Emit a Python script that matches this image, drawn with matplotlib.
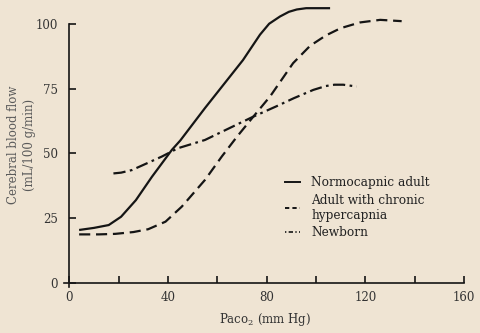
import numpy as np
import matplotlib
matplotlib.use('Agg')
import matplotlib.pyplot as plt
from matplotlib.lines import Line2D

# Values
normo_x = [4, 10, 16, 21, 27, 33.5, 41.6, 45, 55, 70.4, 77.3, 81, 85.4, 89, 92.2, 96, 105.7]
normo_y = [20.5, 21.3, 22.4, 25.6, 32, 41, 51.4, 55, 67.5, 86, 95.8, 100, 102.8, 104.6, 105.5, 106, 106]

hyper_x = [4, 12, 18.6, 26, 32, 39, 45.6, 55, 61.8, 68, 74.6, 81.4, 90.7, 97.6, 104, 110, 117.8, 126, 134.7]
hyper_y = [18.8, 18.8, 19, 19.7, 20.8, 23.7, 29.5, 39.8, 48.8, 56.5, 64.2, 72, 84.8, 91.5, 95.5, 98.3, 100.5, 101.5, 101]

newborn_x = [17.9, 21, 25.4, 31, 37.5, 44, 55, 65, 74.6, 84, 91, 98.9, 104, 107.5, 111, 116.5]
newborn_y = [42.3, 42.6, 43.6, 46, 48.8, 52, 55.2, 59.8, 64.2, 68.2, 71.3, 74.5, 76, 76.5, 76.5, 75.8]

labels = ['Normocapnic adult', 'Adult with chronic\nhypercapnia', 'Newborn']
xticks_major = [0, 40, 80, 120, 160]
xticks_minor = [20, 60, 100, 140]
yticks = [0, 25, 50, 75, 100]

bg = '#efe4d3'
ink = '#151515'

plt.rcParams['font.family'] = ['DejaVu Serif']
fig = plt.figure(figsize=(4.8, 3.33), dpi=100, facecolor=bg)
ax = fig.add_axes([0.134, 0.138, 0.838, 0.853])
ax.set_facecolor(bg)

ax.plot(normo_x, normo_y, color=ink, lw=1.6, clip_on=False, solid_capstyle='butt')
ax.plot(hyper_x, hyper_y, color=ink, lw=1.6, clip_on=False, dashes=(5, 2.6))
ax.plot(newborn_x, newborn_y, color=ink, lw=1.6, clip_on=False, dashes=(5.5, 2, 1.2, 2))

ax.set_xlim(-2, 161)
ax.set_ylim(-1.5, 108)
for s in ['top', 'right']:
    ax.spines[s].set_visible(False)
ax.spines['left'].set_position(('data', 0))
ax.spines['bottom'].set_position(('data', 0))
ax.spines['left'].set_bounds(-1.5, 100)
ax.spines['bottom'].set_bounds(-2, 160)
for s in ['left', 'bottom']:
    ax.spines[s].set_color(ink)
    ax.spines[s].set_linewidth(1.2)

ax.set_xticks(xticks_major)
ax.set_xticks(xticks_minor, minor=True)
ax.set_yticks(yticks)
ax.tick_params(axis='both', which='both', direction='in', length=5, width=1.2,
               color=ink, labelcolor='#333333', labelsize=8.5)
ax.tick_params(axis='x', pad=6)
ax.tick_params(axis='y', pad=8)

ax.set_xlabel('Pa$\\mathregular{co_2}$ (mm Hg)', fontsize=8.5, color='#333333', labelpad=5)
ax.set_ylabel('Cerebral blood flow\n(mL/100 g/min)', fontsize=8.5, color='#5a5a5a',
              labelpad=0, linespacing=1.3)

# legend keys drawn as short samples like the original
handles = [Line2D([], [], color=ink, lw=1.4),
           Line2D([], [], color=ink, lw=1.4, dashes=(2.2, 1.6)),
           Line2D([], [], color=ink, lw=1.2, dashes=(0.8, 1.4, 2.6, 1.4))]
ax.legend(handles, labels, loc='upper left', bbox_to_anchor=(0.522, 0.428), frameon=False,
          handlelength=1.2, handletextpad=0.95, labelspacing=0.35,
          fontsize=8.7, labelcolor='#222222')

fig.savefig('out.png', dpi=100, facecolor=bg)
